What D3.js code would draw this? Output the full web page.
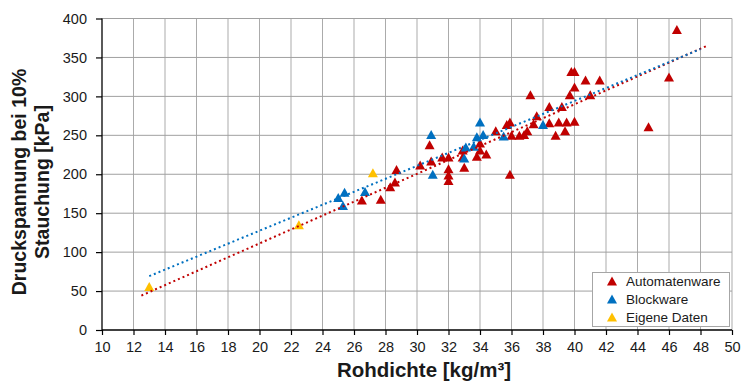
<!DOCTYPE html>
<html>
<head>
<meta charset="utf-8">
<script src="https://cdn.jsdelivr.net/npm/d3@7"></script>
<style>
  html, body { margin: 0; padding: 0; background: #fff; }
  svg { display: block; }
  text { font-family: "Liberation Sans", Arial, sans-serif; }
</style>
</head>
<body>
<svg id="chart" width="744" height="381"></svg>
<script>
// ---- Data ----
const automatenwareX = [26.5, 27.7, 28.3, 28.6, 28.7, 30.2, 30.8, 30.9, 31.6, 32.0, 32.0, 32.0, 32.0, 32.9, 32.9, 33.0, 33.8, 34.0, 34.0, 34.4, 35.0, 35.7, 35.9, 35.9, 36.0, 36.5, 36.8, 37.0, 37.2, 37.4, 37.6, 38.4, 38.4, 38.8, 39.0, 39.2, 39.4, 39.5, 39.7, 39.8, 40.0, 40.0, 40.0, 40.7, 41.0, 41.6, 44.7, 46.0, 46.5];
const automatenwareY = [167, 168, 184, 190, 206, 212, 238, 217, 222, 222, 207, 199, 192, 231, 222, 209, 223, 231, 240, 226, 256, 264, 267, 200, 250, 250, 251, 256, 302, 265, 275, 287, 266, 250, 267, 287, 256, 267, 302, 332, 332, 312, 268, 321, 302, 321, 261, 325, 386];
const blockwareX = [25.0, 25.3, 25.4, 26.7, 30.9, 31.0, 33.0, 33.1, 33.6, 33.8, 34.0, 34.2, 35.5, 38.0];
const blockwareY = [170, 160, 177, 178, 251, 200, 221, 235, 236, 248, 267, 251, 249, 264];
const eigeneX = [13.0, 22.5, 27.2];
const eigeneY = [56, 135, 202];

// linear trend lines: slope, intercept, x range
const trendAutomatenware = { slope: 8.93, intercept: -67.4, from: 12.5, to: 48.5 };
const trendBlockware = { slope: 8.33, intercept: -39.1, from: 13.0, to: 48.0 };

const seriesNames = ["Automatenware", "Blockware", "Eigene Daten"];
const xTicks = d3.range(10, 51, 2);
const yTicks = d3.range(0, 401, 50);

// ---- Layout ----
const colors = { "Automatenware": "#c00000", "Blockware": "#0070c0", "Eigene Daten": "#ffc000" };
const svg = d3.select("#chart");
const x = d3.scaleLinear().domain([10, 50]).range([102, 732]);
const y = d3.scaleLinear().domain([0, 400]).range([330, 18.5]);

// triangle symbol, centered on bbox
const tri = {
  draw(ctx, size) {
    const w = 10, h = 9;
    ctx.moveTo(0, -h / 2);
    ctx.lineTo(w / 2, h / 2);
    ctx.lineTo(-w / 2, h / 2);
    ctx.closePath();
  }
};

// gridlines
svg.append("g").selectAll("line").data(xTicks.filter(d => d > 10)).join("line")
  .attr("x1", d => x(d)).attr("x2", d => x(d))
  .attr("y1", y(0)).attr("y2", y(400))
  .attr("stroke", "#ababab").attr("stroke-width", 1);
svg.append("g").selectAll("line").data(yTicks.filter(d => d > 0)).join("line")
  .attr("x1", x(10)).attr("x2", x(50))
  .attr("y1", d => y(d)).attr("y2", d => y(d))
  .attr("stroke", "#a0a0a0").attr("stroke-width", 1);

// axes
const xAxis = d3.axisBottom(x).tickValues(xTicks).tickSize(5).tickPadding(7).tickFormat(d3.format("d"));
const yAxis = d3.axisLeft(y).tickValues(yTicks).tickSize(6).tickPadding(9).tickFormat(d3.format("d"));
const gx = svg.append("g").attr("transform", `translate(0,${y(0)})`).call(xAxis);
const gy = svg.append("g").attr("transform", `translate(${x(10)},0)`).call(yAxis);
[gx, gy].forEach(g => {
  g.select(".domain").attr("stroke", "#000").attr("stroke-width", 1.3);
  g.selectAll(".tick line").attr("stroke", "#000").attr("stroke-width", 1.2);
  g.selectAll(".tick text").attr("fill", "#1a1a1a").style("font-size", "14.5px")
    .style("font-family", "'Liberation Sans', Arial, sans-serif");
});
gx.select(".domain").attr("d", `M${x(10)},0H${x(50)}`);
gy.select(".domain").attr("d", `M0,${y(0)}V${y(400)}`);

// markers
const symbol = d3.symbol().type(tri);
function drawSeries(xs, ys, name) {
  svg.append("g").selectAll("path").data(xs.map((d, i) => [d, ys[i]])).join("path")
    .attr("transform", d => `translate(${x(d[0])},${y(d[1])})`)
    .attr("d", symbol)
    .attr("fill", colors[name]);
}
drawSeries(automatenwareX, automatenwareY, "Automatenware");
drawSeries(blockwareX, blockwareY, "Blockware");
drawSeries(eigeneX, eigeneY, "Eigene Daten");

// trend lines
function drawTrend(t, color) {
  const pts = [t.from, t.to].map(v => [x(v), y(t.slope * v + t.intercept)]);
  svg.append("path").attr("d", d3.line()(pts))
    .attr("fill", "none").attr("stroke", color).attr("stroke-width", 2)
    .attr("stroke-dasharray", "2,3");
}
drawTrend(trendAutomatenware, colors["Automatenware"]);
drawTrend(trendBlockware, colors["Blockware"]);

// legend
const lg = svg.append("g");
lg.append("rect").attr("x", 592.5).attr("y", 272.5).attr("width", 137).attr("height", 54)
  .attr("fill", "#fff").attr("stroke", "#a6a6a6").attr("stroke-width", 1);
seriesNames.forEach((n, i) => {
  const cy = 281 + i * 18;
  lg.append("path").attr("transform", `translate(612,${cy})`).attr("d", symbol).attr("fill", colors[n]);
  lg.append("text").attr("x", 626).attr("y", cy + 4.8).text(n)
    .attr("fill", "#1a1a1a").style("font-size", "13.5px");
});

// axis titles
svg.append("text").attr("x", 424).attr("y", 377).attr("text-anchor", "middle")
  .style("font-size", "20.5px").style("font-weight", "bold").attr("fill", "#1a1a1a")
  .text("Rohdichte [kg/m³]");
const yt = svg.append("text").attr("transform", "translate(0,182) rotate(-90)")
  .attr("text-anchor", "middle").style("font-size", "19.5px").style("font-weight", "bold").attr("fill", "#1a1a1a");
yt.append("tspan").attr("x", 0).attr("y", 26).text("Druckspannung bei 10%");
yt.append("tspan").attr("x", 0).attr("y", 49).text("Stauchung [kPa]");
</script>
</body>
</html>
